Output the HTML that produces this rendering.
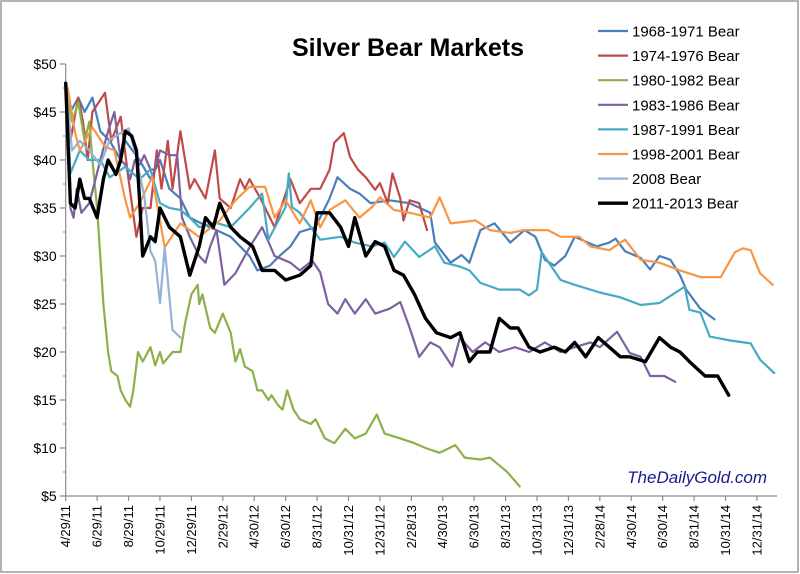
<!DOCTYPE html>
<html><head><meta charset="utf-8">
<style>
html,body{margin:0;padding:0;background:#fff;}
svg{display:block;font-family:"Liberation Sans",sans-serif;}
</style></head>
<body>
<svg id="chart" width="800" height="574" viewBox="0 0 800 574">
<rect x="1" y="1" width="797" height="571" fill="#fff" stroke="#9a9a9a" stroke-width="1.5"/>
<text x="408" y="56" text-anchor="middle" font-size="25" font-weight="bold" fill="#000">Silver Bear Markets</text>
<g id="axes"></g>
<g id="series"></g>
<g id="legend"></g>
<text x="767" y="483" text-anchor="end" font-size="17" font-style="italic" fill="#1a1a8c">TheDailyGold.com</text>
</svg>
<script>
// ---- data ----
const xTickLabels = ["4/29/11","6/29/11","8/29/11","10/29/11","12/29/11","2/29/12","4/30/12","6/30/12","8/31/12","10/31/12","12/31/12","2/28/13","4/30/13","6/30/13","8/31/13","10/31/13","12/31/13","2/28/14","4/30/14","6/30/14","8/31/14","10/31/14","12/31/14"];
const yTickValues = [5,10,15,20,25,30,35,40,45,50];
const seriesNames = ["1968-1971 Bear","1974-1976 Bear","1980-1982 Bear","1983-1986 Bear","1987-1991 Bear","1998-2001 Bear","2008 Bear","2011-2013 Bear"];

const m1968 = [0,.3,.8,1.2,1.7,2.2,2.8,3.5,3.8,4.7,5.4,6.0,6.6,7.3,7.9,8.5,9.2,10.5,11.7,12.2,13.0,13.6,14.3,14.9,15.9,16.8,17.3,18.1,18.7,19.4,20.6,21.9,23.2,23.5,24.5,25.2,25.7,26.4,27.3,28.3,29.2,29.9,30.5,31.1,31.8,32.4,33.1,33.8,34.6,35.0,35.6,36.6,37.2,37.8,38.5,39.1,39.5,40.4,41.3];
const v1968 = [48,45,46.5,45,46.5,43,42,40,42,40,38,40,37,36,34,33.5,33,32,30,28.5,29,30,31,32.5,33,36,38.2,37,36.5,35.5,35.8,35.5,34.5,31.4,29.3,30.1,29.3,32.7,33.4,31.4,32.7,32,29.6,29,30,32,31.5,31,31.4,31.8,30.5,29.8,28.6,30,29.6,28,26.5,24.5,23.4];

const m1974 = [0,.3,.8,1.1,1.4,1.7,2.5,2.9,3.5,4.0,4.5,4.9,5.4,5.8,6.1,6.5,6.8,7.3,7.9,8.2,8.9,9.5,9.8,10.5,11.1,11.4,11.7,12.4,13.3,14.3,14.9,15.6,16.2,16.8,17.1,17.7,18.1,18.6,19.1,19.7,20.0,20.5,20.8,21.3,21.5,21.9,22.5,23.0];
const v1974 = [48,42,46.5,44,40,45,47,42,44.5,38,32,35,35,41,37,42,37,43,37,38,36,41,36,35,38,37,38,36,33,38,35.5,37,37,39,41.8,42.8,40.3,39,38.2,36.9,37.6,35.5,38.6,36,33.7,35.8,35.5,32.7];

const m1980 = [0,.4,.8,1.2,1.5,1.7,2.0,2.4,2.7,2.9,3.3,3.5,3.8,4.1,4.3,4.6,4.9,5.4,5.7,6.0,6.2,6.8,7.3,7.6,8.0,8.4,8.5,8.7,9.2,9.5,10.0,10.5,10.8,11.1,11.4,11.9,12.2,12.5,12.9,13.1,13.5,13.8,14.1,14.5,14.9,15.6,15.9,16.5,17.1,17.8,18.4,19.1,19.8,20.3,21.3,22.2,22.9,23.8,24.8,25.4,26.4,27.0,27.6,28.1,28.9];
const v1980 = [48,44,46,42,44,40,35,25,20,18,17.5,16,15,14.3,16,20,19,20.5,18.6,20,18.8,20,20,23,26,27,25,26,22.5,22,24,22,19,20.3,18.5,18,16,16,15,15.5,14.5,14,16,14,13,12.5,13,11,10.5,12,11,11.5,13.5,11.5,11,10.5,10,9.5,10.3,9,8.8,9,8.2,7.5,6];

const m1983 = [0,.3,.5,.7,1.0,1.5,1.9,2.2,2.7,3.1,3.5,3.8,4.1,4.4,4.7,5.0,5.4,5.7,6.0,6.6,7.1,7.4,7.9,8.5,8.9,9.2,9.6,10.1,10.8,11.4,11.7,12.5,13.3,14.3,14.9,15.7,16.2,16.7,17.3,17.8,18.4,19.1,19.7,20.6,21.3,21.9,22.5,23.2,23.8,24.6,25.1,25.9,26.7,27.6,28.6,29.5,30.5,31.5,32.4,33.4,34.0,35.1,35.9,36.6,37.2,38.1,38.8];
const v1983 = [48,35,34,37,34.5,35.5,38,40,43,45,40,39.5,38,40,39.5,40.5,39,39,41,40.5,40.5,34,32,30,29.3,31,32.7,27,28.2,30,30.9,33,30,29.3,28.5,29.5,28.3,25,24,25.5,24,25.5,24,24.5,25.2,22.5,19.5,21,20.5,18.5,21.5,20,21,20,20.5,20,21,20,20.5,21,20.5,22.1,19.9,19.5,17.5,17.5,16.9];

const m1987 = [0,.3,.9,1.5,2.2,2.8,3.8,4.7,5.4,6.0,6.6,7.3,7.9,8.5,9.5,10.5,11.1,11.7,12.5,12.9,14.0,14.2,14.4,14.9,15.6,16.2,17.5,18.4,19.5,20.3,20.9,21.6,22.5,23.5,24.1,25.1,25.7,26.4,27.6,28.9,29.5,30.0,30.3,31.5,32.4,34.0,35.3,36.6,37.8,39.4,39.7,40.4,41.0,42.3,43.6,44.2,45.1];
const v1987 = [48,38.6,41,40,40,38.2,39.3,38,39,35.5,35,34.8,34,33,33.5,33,34,35,36.5,31.7,35.1,38.6,35.1,34.5,33,31.7,32,31.4,31,31.4,29.9,31.5,29.9,31,29.3,28.9,28.5,27.2,26.5,26.5,25.9,26.5,30.4,27.5,27,26.2,25.7,24.9,25.1,26.8,24.4,24.1,21.6,21.2,20.9,19.2,17.8];

const m1998 = [0,.15,.6,.9,1.7,2.5,3.1,3.8,4.1,4.7,5.5,6.0,6.3,7.3,8.5,9.8,10.8,11.7,12.7,13.3,14.0,14.9,15.6,16.2,16.8,17.8,18.7,19.5,20.0,20.9,21.9,23.2,23.8,24.5,26.1,27.0,28.3,29.2,30.7,31.5,32.7,33.4,34.6,35.6,36.6,37.8,39.1,40.4,41.7,42.6,43.1,43.6,44.2,45.0];
const v1998 = [48,47.3,42.8,41,43.4,41.4,41,35.8,34,35.5,38.2,33.7,30.9,33.4,32,33.7,35.8,37.2,37.2,34,35.8,33.4,35.8,33,34.8,35.8,34,35.1,36.1,34.8,34.5,34,36.1,33.4,33.7,32.7,32.4,32.7,32.7,32,32,31,30.6,31.7,29.6,29.3,28.5,27.8,27.8,30.4,30.8,30.6,28.2,27];

const m2008 = [0,.4,.9,1.5,2.2,2.8,4.0,4.4,5.0,5.4,5.7,6.0,6.3,6.8,7.3];
const v2008 = [48,41,42,41,39.5,42.1,43.3,41,36.2,30.5,29.5,25.1,30.9,22.3,21.5];

const m2011 = [0,.3,.6,.9,1.2,1.5,2.0,2.4,2.7,3.2,3.5,3.8,4.2,4.5,4.7,4.9,5.4,5.7,6.0,6.6,7.3,7.9,8.5,8.9,9.4,9.8,10.5,11.1,11.9,12.5,13.3,14.0,14.9,15.6,16.0,16.8,17.5,18.0,18.4,19.1,19.7,20.3,20.9,21.5,22.2,22.9,23.6,24.5,25.1,25.7,26.2,27.0,27.6,28.3,28.8,29.5,30.2,31.1,31.8,32.4,33.1,33.9,34.6,35.3,35.9,36.9,37.8,38.5,39.1,39.7,40.7,41.5,42.2];
const v2011 = [48,35.5,35,38,36,36,34,38,40,38.5,40,43,42.5,41,36,30,32,31.5,35,33,32,28,31,34,33,35.5,33,32,31,28.5,28.5,27.5,28,29,34.5,34.5,33,31,34,30,31.5,31,28.5,28,26,23.5,22,21.5,22,19,20,20,23.5,22.5,22.5,20.5,20,20.5,20,21,19.5,21.5,20.5,19.5,19.5,19,21.5,20.5,20,19,17.5,17.5,15.5];

const seriesMonths = [m1968,m1974,m1980,m1983,m1987,m1998,m2008,m2011];
const seriesValues = [v1968,v1974,v1980,v1983,v1987,v1998,v2008,v2011];
const seriesColors = ["#4a7ebb","#be4b48","#8db04a","#7d60a0","#46aac5","#f79646","#95b3d7","#000000"];
const seriesWidths = [2.2,2.2,2.2,2.2,2.2,2.2,2.2,3.4];

// ---- scales ----
const X0 = 65.7, PX_PER_MONTH = 15.71, XEND = 777;
const Y_AT_5 = 496, PX_PER_DOLLAR = 9.6;
function xScale(m){ return X0 + m*PX_PER_MONTH; }
function yScale(v){ return Y_AT_5 - (v-5)*PX_PER_DOLLAR; }

const NS = "http://www.w3.org/2000/svg";
function mk(tag, attrs){ const e=document.createElementNS(NS,tag); for(const k in attrs) e.setAttribute(k,attrs[k]); return e; }

const axes = document.getElementById('axes');
// y axis
const yAxis = mk('line',{x1:X0,y1:yScale(50),x2:X0,y2:Y_AT_5,stroke:'#8c8c8c','stroke-width':1.2});


axes.appendChild(yAxis);
yTickValues.forEach(v=>{
  const t = mk('line',{x1:X0-6,y1:yScale(v),x2:X0,y2:yScale(v),stroke:'#8c8c8c','stroke-width':1.2});
  
  
  axes.appendChild(t);
  if(v<50){
    const mt = mk('line',{x1:X0-3,y1:yScale(v+2.5),x2:X0,y2:yScale(v+2.5),stroke:'#8c8c8c','stroke-width':1});
    
    
    axes.appendChild(mt);
  }
  const lb = mk('text',{x:X0-9,y:yScale(v)+5,'text-anchor':'end','font-size':14,fill:'#000'});
  lb.textContent = '$'+v;
  
  
  axes.appendChild(lb);
});
// x axis
const xAxis = mk('line',{x1:X0,y1:Y_AT_5,x2:XEND,y2:Y_AT_5,stroke:'#8c8c8c','stroke-width':1.2});


axes.appendChild(xAxis);
xTickLabels.forEach((s,i)=>{
  const x = xScale(i*2);
  const t = mk('line',{x1:x,y1:Y_AT_5,x2:x,y2:Y_AT_5+5,stroke:'#8c8c8c','stroke-width':1.2});
  
  
  axes.appendChild(t);
  const lb = mk('text',{x:0,y:0,'text-anchor':'end','font-size':13,fill:'#000',transform:`translate(${x+4.5},${Y_AT_5+9}) rotate(-90)`});
  lb.textContent = s;
  
  
  axes.appendChild(lb);
});

// series
const sg = document.getElementById('series');
seriesNames.forEach((name,i)=>{
  const ms = seriesMonths[i], vs = seriesValues[i];
  const pts = ms.map((m,j)=>xScale(m).toFixed(1)+','+yScale(vs[j]).toFixed(1)).join(' ');
  const pl = mk('polyline',{points:pts,fill:'none',stroke:seriesColors[i],'stroke-width':seriesWidths[i],'stroke-linejoin':'round','stroke-linecap':'round'});
  
  
  sg.appendChild(pl);
});

// legend
const lg = document.getElementById('legend');
seriesNames.forEach((name,i)=>{
  const y = 31 + i*24.6;
  const ln = mk('line',{x1:598,y1:y,x2:628,y2:y,stroke:seriesColors[i],'stroke-width':seriesWidths[i]});
  
  
  lg.appendChild(ln);
  const tx = mk('text',{x:632,y:y+5.5,'font-size':15,fill:'#000'});
  tx.textContent = name;
  
  
  lg.appendChild(tx);
});
</script>
</body></html>
